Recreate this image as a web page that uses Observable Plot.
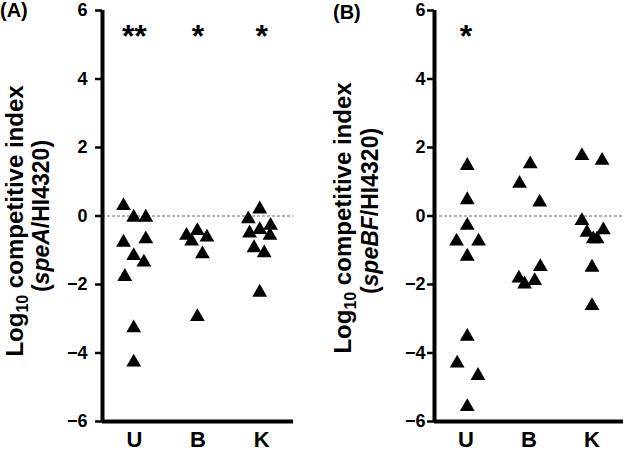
<!DOCTYPE html>
<html>
<head>
<meta charset="utf-8">
<script src="https://cdn.jsdelivr.net/npm/d3@7"></script>
<script src="https://cdn.jsdelivr.net/npm/@observablehq/plot@0.6"></script>
<style>
  html, body { margin: 0; padding: 0; background: #fff; }
  #wrap { display: flex; flex-direction: row; width: 628px; height: 453px; }
  #wrap svg { display: block; overflow: visible; flex: none; }
</style>
</head>
<body>
<div id="wrap"></div>
<script>
// ---- data ----
const categories = ["U", "B", "K"];
const yTicks = [-6, -4, -2, 0, 2, 4, 6];

// Panel A (speA/HI4320): log10 CI values and horizontal jitter (category units)
const aU = [0.30, -0.04, -0.04, -0.77, -0.67, -1.16, -1.35, -1.77, -3.27, -4.27];
const aUoff = [-0.17, -0.01, 0.18, -0.17, 0.18, -0.01, 0.15, -0.15, -0.01, -0.01];
const aB = [-0.57, -0.43, -0.62, -0.74, -1.11, -2.94];
const aBoff = [-0.18, -0.01, 0.14, -0.10, 0.07, -0.01];
const aK = [0.20, -0.09, -0.28, -0.40, -0.50, -0.57, -0.93, -1.08, -2.23];
const aKoff = [-0.03, -0.21, 0.14, -0.03, -0.19, 0.13, -0.12, 0.04, -0.03];
const sigA = ["**", "*", "*"];

// Panel B (speBF/HI4320)
const bU = [1.47, 0.47, -0.28, -0.74, -0.74, -1.18, -3.52, -4.30, -4.66, -5.57];
const bUoff = [0.02, 0.02, 0.02, -0.15, 0.20, 0.02, 0.02, -0.14, 0.19, 0.02];
const bB = [0.95, 1.52, 0.40, -1.82, -1.99, -1.89, -1.48];
const bBoff = [-0.15, 0.02, 0.17, -0.16, -0.07, 0.09, 0.18];
const bK = [1.76, 1.62, -0.14, -0.48, -0.67, -0.67, -0.41, -1.50, -2.62];
const bKoff = [-0.16, 0.16, -0.16, -0.08, 0.02, 0.08, 0.18, 0.00, 0.00];
const sigB = ["*", "", ""];

function rows(groups) {
  const out = [];
  groups.forEach(([vals, offs], ci) => {
    vals.forEach((v, i) => out.push({ci, off: offs[i], v}));
  });
  return out;
}
const dataA = rows([[aU, aUoff], [aB, aBoff], [aK, aKoff]]);
const dataB = rows([[bU, bUoff], [bB, bBoff], [bK, bKoff]]);

const FONT = "'Liberation Sans', Arial, Helvetica, sans-serif";
const fmt = d3.format("d");

function panel(opts) {
  const svg = Plot.plot({
    width: 314,
    height: 453,
    marginLeft: opts.marginLeft,
    marginRight: opts.marginRight,
    marginTop: 10,
    marginBottom: 32,
    style: {fontFamily: FONT, fontWeight: "bold", color: "#000", background: "#fff", overflow: "visible"},
    x: {type: "linear", domain: [-0.5, 2.5], axis: null},
    y: {domain: [-6, 6], axis: null},
    marks: [
      Plot.ruleY([0], {stroke: "#666", strokeWidth: 1, strokeDasharray: "3,2"}),
      Plot.axisY({ticks: yTicks, tickSize: 7, strokeWidth: 2.5, label: null, tickFormat: () => ""}),
      Plot.text(yTicks, {y: d => d, text: d => fmt(d), frameAnchor: "left", textAnchor: "end", lineAnchor: "middle", dx: -(7 + opts.tickPadding), fontSize: 18, fontWeight: "bold", fill: "#000"}),
      Plot.text(categories, {x: (d, i) => i, text: d => d, frameAnchor: "bottom", lineAnchor: "top", dy: 10, fontSize: 22, fontWeight: "bold", fill: "#000"}),
      Plot.ruleX([-0.5], {stroke: "#000", strokeWidth: 4}),
      Plot.ruleY([-6], {stroke: "#000", strokeWidth: 4}),
      Plot.dot(opts.data, {x: d => d.ci + d.off, y: "v", symbol: "triangle", r: 5.5, fill: "#000", stroke: "none"}),
      Plot.text(opts.sig.map((s, i) => ({ci: i, s})), {x: "ci", text: "s", frameAnchor: "top", lineAnchor: "top", dy: 14, fontSize: 32, fontWeight: "bold", fill: "#000"})
    ]
  });
  const s = d3.select(svg);
  // panel letter
  s.append("text").attr("x", opts.letterX).attr("y", opts.letterY)
    .attr("text-anchor", "start")
    .attr("font-family", FONT).attr("font-weight", "bold").attr("font-size", 20)
    .attr("fill", "#000").text(opts.letter);
  // y title line 1
  const t1 = s.append("text")
    .attr("transform", `translate(${opts.t1x},${opts.t1y}) rotate(-90)`)
    .attr("text-anchor", "middle").attr("font-family", FONT).attr("font-weight", "bold")
    .attr("font-size", 24).attr("fill", "#000");
  t1.append("tspan").text("Log");
  t1.append("tspan").attr("font-size", 16).attr("dy", 5).text("10");
  t1.append("tspan").attr("dy", -5).text(" competitive index");
  // y title line 2
  const t2 = s.append("text")
    .attr("transform", `translate(${opts.t2x},${opts.t2y}) rotate(-90)`)
    .attr("text-anchor", "middle").attr("font-family", FONT).attr("font-weight", "bold")
    .attr("font-size", 23).attr("fill", "#000");
  t2.append("tspan").text("(");
  t2.append("tspan").attr("font-style", "italic").text(opts.gene);
  t2.append("tspan").text("/HI4320)");
  return svg;
}

const wrap = document.getElementById("wrap");
wrap.appendChild(panel({
  data: dataA, sig: sigA, marginLeft: 102, marginRight: 21, tickPadding: 8,
  letter: "(A)", letterX: 0, letterY: 17,
  t1x: 23, t1y: 221, t2x: 49, t2y: 216, gene: "speA"
}));
wrap.appendChild(panel({
  data: dataB, sig: sigB, marginLeft: 120, marginRight: 5, tickPadding: 2,
  letter: "(B)", letterX: 19, letterY: 19,
  t1x: 37, t1y: 218, t2x: 64, t2y: 211, gene: "speBF"
}));
</script>
</body>
</html>
